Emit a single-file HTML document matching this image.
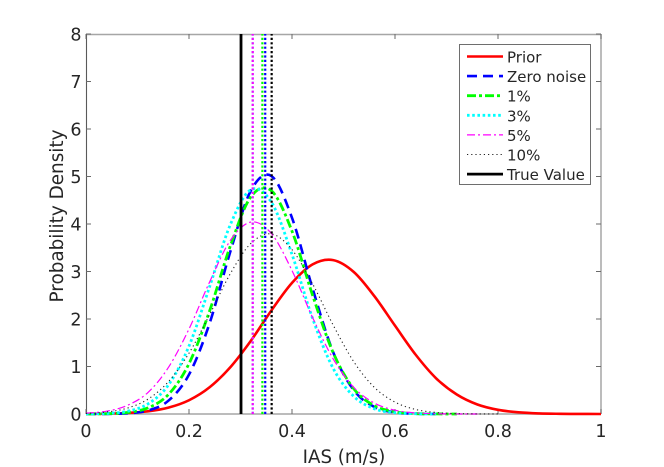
<!DOCTYPE html>
<html>
<head>
<meta charset="utf-8">
<title>IAS probability density</title>
<style>
html,body{margin:0;padding:0;background:#fff;width:664px;height:467px;overflow:hidden}
svg{display:block;font-family:"DejaVu Sans","Liberation Sans",sans-serif}
text{fill:#262626}
</style>
</head>
<body>
<svg id="chart" width="664" height="467" viewBox="0 0 664 467" xmlns="http://www.w3.org/2000/svg">
  <rect x="86" y="34" width="515" height="380" fill="#fff"/>
  <g id="axes"></g>
  <g id="curves"></g>
  <text x="344" y="463" font-size="18.2" text-anchor="middle">IAS (m/s)</text>
  <text transform="translate(63,216) rotate(-90)" font-size="18.4" text-anchor="middle">Probability Density</text>
  <g id="legend"></g>
</svg>
<script>
const xGrid = [0,0.04,0.08,0.12,0.16,0.2,0.24,0.28,0.32,0.36,0.4,0.44,0.48,0.52,0.56,0.6,0.64,0.68,0.72,0.76,0.8,0.84,0.88,0.92,0.96,1];
const priorValues = [0.002,0.007,0.021,0.056,0.134,0.29,0.563,0.982,1.54,2.18,2.76,3.15,3.24,2.99,2.48,1.86,1.25,0.75,0.41,0.2,0.088,0.035,0.012,0.004,0.001,0];
const zeroNoiseValues = [0.001,0.002,0.015,0.073,0.28,0.83,1.91,3.41,4.7,5.01,4.13,2.64,1.3,0.5,0.148,0.034,0.006,0.001];
const onePercentValues = [0.001,0.006,0.031,0.127,0.41,1.06,2.17,3.53,4.57,4.7,3.85,2.5,1.29,0.53,0.174,0.045,0.009,0.002,0];
const threePercentValues = [0.002,0.012,0.057,0.21,0.61,1.43,2.68,3.98,4.72,4.46,3.36,2.01,0.96,0.37,0.11,0.027,0.005,0.001];
const fivePercentValues = [0.017,0.059,0.18,0.45,0.98,1.79,2.78,3.65,4.04,3.8,3.02,2.03,1.16,0.56,0.23,0.08,0.023,0.006,0.001,0];
const tenPercentValues = [0.012,0.042,0.123,0.31,0.68,1.28,2.09,2.95,3.59,3.79,3.46,2.74,1.87,1.1,0.56,0.25,0.096,0.032,0.009,0.002,0.001];
const trueValue = [0.301];
const posteriorMeans = [0.348,0.3425,0.3237,0.3237,0.3605];
const xTicks = [0,0.2,0.4,0.6,0.8,1];
const yTicks = [0,1,2,3,4,5,6,7,8];
const legendLabels = ["Prior","Zero noise","1%","3%","5%","10%","True Value"];

const NS = "http://www.w3.org/2000/svg";
const xScale = v => 86 + v * 515;
const yScale = v => 414 - v * 47.5;

const curveStyles = [
  {stroke:"#ff0000",width:2.6,dash:""},
  {stroke:"#0000ff",width:2.6,dash:"10 6"},
  {stroke:"#00ff00",width:2.8,dash:"9 3 3 3"},
  {stroke:"#00ffff",width:2.8,dash:"2.6 2.6"},
  {stroke:"#ff00ff",width:1.2,dash:"8 3 2 3"},
  {stroke:"#222222",width:1.1,dash:"1.2 3"},
  {stroke:"#000000",width:2.8,dash:""}
];
const curveSeries = [priorValues,zeroNoiseValues,onePercentValues,threePercentValues,fivePercentValues,tenPercentValues];
const seriesNames = ["prior","zero-noise","one-percent","three-percent","five-percent","ten-percent"];

function smoothPath(xs, ys){
  const p = ys.map((y,i)=>[xScale(xs[i]),yScale(y)]);
  let d = "M"+p[0][0].toFixed(2)+" "+p[0][1].toFixed(2);
  for(let i=0;i<p.length-1;i++){
    const a=p[Math.max(i-1,0)],b=p[i],c=p[i+1],e=p[Math.min(i+2,p.length-1)];
    const c1x=b[0]+(c[0]-a[0])/6;
    const c2x=c[0]-(e[0]-b[0])/6;
    const c1y=Math.min(414,b[1]+(c[1]-a[1])/6);
    const c2y=Math.min(414,c[1]-(e[1]-b[1])/6);
    d+="C"+c1x.toFixed(2)+" "+c1y.toFixed(2)+" "+c2x.toFixed(2)+" "+c2y.toFixed(2)+" "+c[0].toFixed(2)+" "+c[1].toFixed(2);
  }
  return d;
}
function applyStroke(el,s){
  el.setAttribute("fill","none");
  el.setAttribute("stroke",s.stroke);
  el.setAttribute("stroke-width",s.width);
  if(s.dash) el.setAttribute("stroke-dasharray",s.dash);
}

const curvesLayer = document.getElementById("curves");
curveSeries.forEach((vals,i)=>{
  const path = document.createElementNS(NS,"path");
  path.setAttribute("d",smoothPath(xGrid,vals));
  applyStroke(path,curveStyles[i]);
  
  
  curvesLayer.appendChild(path);
});

/* Vertical mean markers: drawn dotted in each series colour */
const meanColors = ["#0000ff","#00ff00","#00ffff","#ff00ff","#000000"];
const meanOrder = [2,0,1,3,4];
meanOrder.forEach(i=>{
  const line = document.createElementNS(NS,"line");
  const x = xScale(posteriorMeans[i]);
  line.setAttribute("x1",x);
  line.setAttribute("x2",x);
  line.setAttribute("y1",yScale(0));
  line.setAttribute("y2",yScale(8));
  line.setAttribute("stroke",meanColors[i]);
  line.setAttribute("stroke-width",2.2);
  line.setAttribute("stroke-dasharray","2.2 2.2");
  
  
  curvesLayer.appendChild(line);
});
const trueLine = document.createElementNS(NS,"line");
trueLine.setAttribute("x1",xScale(trueValue[0]));
trueLine.setAttribute("x2",xScale(trueValue[0]));
trueLine.setAttribute("y1",yScale(0));
trueLine.setAttribute("y2",yScale(8));
trueLine.setAttribute("stroke","#000");
trueLine.setAttribute("stroke-width",2.8);


curvesLayer.appendChild(trueLine);

const axesLayer = document.getElementById("axes");
function axisEdge(x1,y1,x2,y2,color,width,name){
  const e = document.createElementNS(NS,"line");
  e.setAttribute("x1",x1);
  e.setAttribute("y1",y1);
  e.setAttribute("x2",x2);
  e.setAttribute("y2",y2);
  e.setAttribute("stroke",color);
  e.setAttribute("stroke-width",width);
  
  
  axesLayer.appendChild(e);
}
axisEdge(86,34.5,601,34.5,"#a6a6a6",1.5,'axes-top-edge');
axisEdge(601,34,601,414,"#a6a6a6",1.5,'axes-right-edge');
axisEdge(86,414,601,414,"#a6a6a6",1.5,'x-axis-line');
axisEdge(86.5,34,86.5,414,"#5a5a5a",1.1,'y-axis-line');

function tickLine(x1,y1,x2,y2,name){
  const t = document.createElementNS(NS,"line");
  t.setAttribute("x1",x1);
  t.setAttribute("y1",y1);
  t.setAttribute("x2",x2);
  t.setAttribute("y2",y2);
  t.setAttribute("stroke","#6a6a6a");
  t.setAttribute("stroke-width",1);
  
  
  axesLayer.appendChild(t);
}
xTicks.forEach(v=>{
  const x = xScale(v);
  tickLine(x,414,x,409,'x-axis-tick');
  tickLine(x,34,x,39,'x-axis-tick-top');
  const t = document.createElementNS(NS,"text");
  t.setAttribute("x",x);
  t.setAttribute("y",437);
  t.setAttribute("font-size",17.5);
  t.setAttribute("text-anchor","middle");
  t.textContent = String(v);
  
  
  axesLayer.appendChild(t);
});
yTicks.forEach(v=>{
  const y = yScale(v);
  tickLine(86,y,91,y,'y-axis-tick');
  tickLine(601,y,596,y,'y-axis-tick-right');
  const t = document.createElementNS(NS,"text");
  t.setAttribute("x",81.5);
  t.setAttribute("y",y+6.5);
  t.setAttribute("font-size",17.5);
  t.setAttribute("text-anchor","end");
  t.textContent = String(v);
  
  
  axesLayer.appendChild(t);
});

const legend = document.getElementById("legend");
const box = document.createElementNS(NS,"rect");
box.setAttribute("x",459.5);
box.setAttribute("y",44.5);
box.setAttribute("width",131);
box.setAttribute("height",140);
box.setAttribute("fill","#fff");
box.setAttribute("stroke","#6e6e6e");
box.setAttribute("stroke-width",1);


legend.appendChild(box);
legendLabels.forEach((label,i)=>{
  const y = 56.5 + i*19.6;
  const sample = document.createElementNS(NS,"line");
  sample.setAttribute("x1",467);
  sample.setAttribute("x2",503);
  sample.setAttribute("y1",y);
  sample.setAttribute("y2",y);
  applyStroke(sample,curveStyles[i]);
  
  
  legend.appendChild(sample);
  const t = document.createElementNS(NS,"text");
  t.setAttribute("x",507);
  t.setAttribute("y",y+6);
  t.setAttribute("font-size",15);
  t.textContent = label;
  
  
  legend.appendChild(t);
});
</script>
</body>
</html>
